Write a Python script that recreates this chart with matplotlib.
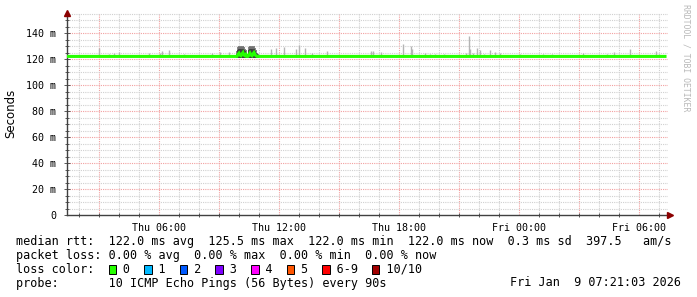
import matplotlib
matplotlib.use("Agg")
import matplotlib.pyplot as plt
from matplotlib.patches import Rectangle

W, H = 697, 297

# hours since Thu 00:00
x_start, x_end = 1.4, 31.45
hour_ticks = [6, 12, 18, 24, 30]
hour_labels = ["Thu 06:00", "Thu 12:00", "Thu 18:00", "Fri 00:00", "Fri 06:00"]

y_ticks = [0, 20, 40, 60, 80, 100, 120, 140]
y_labels = ["0", "20 m", "40 m", "60 m", "80 m", "100 m", "120 m", "140 m"]

# single smoke spikes (hour, top in ms)
spike_h = [1.55, 1.75, 2.05, 3.0, 3.5, 3.75, 4.0, 5.05, 5.5, 6.05, 6.15, 6.5,
           7.25, 7.85, 8.65, 9.05, 9.5, 11.6, 11.85, 12.25, 12.85, 13.0, 13.3,
           13.65, 14.4, 15.3, 16.6, 16.7, 17.1, 17.85, 18.2, 18.6, 18.65, 19.3,
           19.55, 19.8, 20.25, 20.95, 21.35, 21.5, 21.55, 21.7, 21.9, 22.05,
           22.25, 22.55, 22.8, 23.05, 24.05, 25.2, 25.65, 27.2, 28.4, 28.75,
           29.55, 30.85, 31.0]
spike_top = [123.3, 123.3, 123.0, 128.7, 123.5, 124.6, 125.4, 123.2, 124.6,
             124.6, 126.4, 127.0, 123.5, 123.3, 125.0, 125.4, 125.4, 127.7,
             128.7, 129.5, 127.7, 130.8, 128.7, 124.6, 126.0, 123.2, 126.0,
             126.0, 125.7, 123.3, 131.5, 130.0, 127.7, 124.6, 123.5, 123.5,
             123.5, 123.2, 124.5, 137.7, 127.7, 124.5, 128.7, 126.9, 124.0,
             126.9, 125.4, 124.6, 124.0, 123.5, 123.5, 124.9, 123.5, 125.4,
             127.7, 126.4, 123.5]

# busy period around Thu 10:00
busy_h = [9.90, 9.95, 10.00, 10.05, 10.10, 10.15, 10.20, 10.25, 10.30, 10.35,
          10.40, 10.45, 10.50, 10.55, 10.60, 10.65, 10.70, 10.75, 10.80,
          10.85, 10.90, 10.95]
busy_top = [126.0, 129.0, 130.0, 129.5, 130.0, 129.0, 130.0, 129.5, 128.0,
            127.0, 124.0, 123.5, 129.0, 130.0, 129.5, 130.0, 129.0, 130.0,
            128.5, 127.0, 125.0, 124.0]
busy_mid = [123.5, 127.0, 128.0, 127.5, 127.5, 127.0, 128.0, 127.0, 126.5,
            125.0, 123.0, 122.5, 127.0, 128.0, 127.5, 128.0, 127.0, 128.0,
            126.5, 125.0, 123.5, 123.0]
busy_med = [122.0, 123.5, 124.5, 123.0, 122.5, 124.0, 125.0, 123.0, 122.5,
            123.5, 122.0, 122.0, 123.0, 124.5, 123.0, 122.5, 124.0, 125.0,
            123.5, 122.5, 122.0, 122.0]

# median rtt
median_h = [1.4, 9.85] + busy_h + [11.0, 31.3]
median_v = [122.0, 122.0] + busy_med + [122.0, 122.0]

loss_names = ["0", "1", "2", "3", "4", "5", "6-9", "10/10"]
loss_colors = ["#26ff00", "#00b8ff", "#0059ff", "#7e00ff", "#ff00ff",
               "#ff5500", "#ff0000", "#a10000"]

mono = "DejaVu Sans Mono"

fig = plt.figure(figsize=(W / 100, H / 100), dpi=100)
fig.patch.set_facecolor("white")

def fx(x):
    return x / W

def fy(y):
    return 1 - y / H

ax = fig.add_axes([fx(67), fy(215), (668 - 67) / W, (215 - 13) / H])
ax.set_xlim(x_start, x_end)
ax.set_ylim(0, 155.4)

# grid
for h in range(2, 32):
    if h % 3 == 0:
        ax.axvline(h, color="#f2a0a0", lw=0.8, ls=(0, (1, 1)), zorder=0)
    else:
        ax.axvline(h, color="#d0d0d0", lw=0.8, ls=(0, (1, 1)), zorder=0)
for v in range(5, 156, 5):
    if v % 20 == 0:
        ax.axhline(v, color="#f2a0a0", lw=0.8, ls=(0, (1, 1)), zorder=0)
    else:
        ax.axhline(v, color="#d0d0d0", lw=0.8, ls=(0, (1, 1)), zorder=0)

# smoke
ax.vlines(spike_h, 121.5, spike_top, color="#b4b4b4", lw=1, zorder=2)
ax.vlines(busy_h, 121.0, busy_top, color="#6e6e6e", lw=1.2, zorder=2)
ax.vlines(busy_h, 121.0, busy_mid, color="#3c3c3c", lw=1.2, zorder=2)

ax.plot(median_h, median_v, color="#26ff00", lw=2.2, zorder=3,
        solid_joinstyle="miter")

# axes
for s in ["top", "right"]:
    ax.spines[s].set_visible(False)
ax.spines["left"].set_color("#404040")
ax.spines["bottom"].set_color("#404040")
ax.spines["left"].set_linewidth(1)
ax.spines["bottom"].set_linewidth(1)

ax.set_xticks(hour_ticks)
ax.set_xticklabels(hour_labels, fontfamily=mono, fontsize=7.2)
ax.set_xticks(list(range(2, 32)), minor=True)
ax.set_yticks(y_ticks)
ax.set_yticklabels(y_labels, fontfamily=mono, fontsize=7.2)
ax.set_yticks(list(range(5, 156, 5)), minor=True)
ax.tick_params(axis="both", which="both", direction="inout", length=3,
               width=0.6, color="#404040", pad=4)
ax.tick_params(axis="x", which="major", length=0, pad=6)
ax.tick_params(axis="y", which="major", length=4, pad=6)

# arrows
ax.plot([0], [1.0], marker="^", color="#8b0000", markersize=4,
        transform=ax.transAxes, clip_on=False, zorder=5)
ax.plot([1.003], [0], marker=">", color="#8b0000", markersize=4,
        transform=ax.transAxes, clip_on=False, zorder=5)

fig.text(fx(11), fy(113), "Seconds", rotation=90, ha="center", va="center",
         fontsize=8.5, color="black")

fig.text(fx(686), fy(4), "RRDTOOL / TOBI OETIKER", rotation=-90, ha="center",
         va="top", fontsize=5.9, fontfamily=mono, color="#b8b8b8")

fs = 8.5
fig.text(fx(16), fy(241),
         "median rtt:  122.0 ms avg  125.5 ms max  122.0 ms min  122.0 ms now  0.3 ms sd  397.5   am/s",
         fontfamily=mono, fontsize=fs, va="center")
fig.text(fx(16), fy(256),
         "packet loss: 0.00 % avg  0.00 % max  0.00 % min  0.00 % now",
         fontfamily=mono, fontsize=fs, va="center")

cw = fs * 100 / 72 * 0.602
row = "loss color:  "
squares = []
for name in loss_names:
    squares.append(len(row))
    row += "  " + name + "  "
fig.text(fx(16), fy(269), row, fontfamily=mono, fontsize=fs, va="center")
for pos, c in zip(squares, loss_colors):
    x0 = 16 + pos * cw + 0.5
    fig.patches.append(Rectangle((fx(x0), fy(273.5)), 7.5 / W, 8.5 / H,
                                 transform=fig.transFigure, facecolor=c,
                                 edgecolor="black", lw=0.7))

fig.text(fx(16), fy(283), "probe:       10 ICMP Echo Pings (56 Bytes) every 90s",
         fontfamily=mono, fontsize=fs, va="center")
fig.text(fx(681), fy(283), "Fri Jan  9 07:21:03 2026", fontfamily=mono,
         fontsize=fs, va="center", ha="right")

fig.savefig("out.png", dpi=100)
